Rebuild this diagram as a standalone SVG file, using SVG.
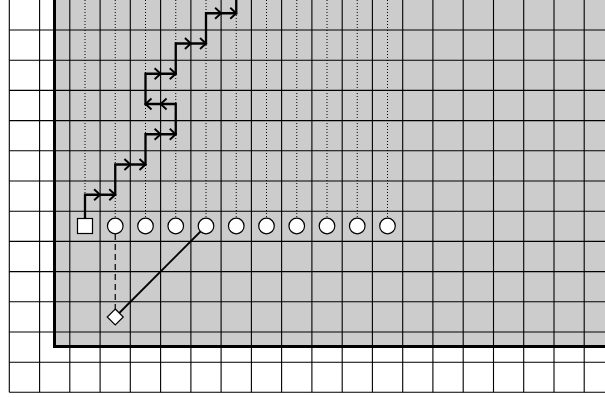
<svg xmlns="http://www.w3.org/2000/svg" xmlns:xlink="http://www.w3.org/1999/xlink" width="605" height="397" viewBox="0 0 605 397">
<style>
.grid{stroke:#000;stroke-width:1.1;fill:none}
.dot{stroke:#000;stroke-width:1;stroke-dasharray:1 2;fill:none}
.path{stroke:#000;stroke-width:2.3;fill:none;stroke-linejoin:miter}
.chev{stroke:#000;stroke-width:1.9;fill:none}
.node{fill:#fff;stroke:#000;stroke-width:1.2}
</style>
<defs>
<path id="ar" class="chev" d="M-6,-5.5 L0,0 L-6,5.5"/>
<path id="al" class="chev" d="M6,-5.5 L0,0 L6,5.5"/>
</defs>
<rect x="0" y="0" width="605" height="397" fill="#fff"/>
<rect x="54.5" y="-10" width="570" height="356.5" fill="#ccc"/>
<g id="grid" class="grid">
<path d="M9.3,0V392.3 M39.6,0V392.3 M69.8,0V392.3 M100.1,0V392.3 M130.3,0V392.3 M160.6,0V392.3 M190.9,0V392.3 M221.1,0V392.3 M251.4,0V392.3 M281.6,0V392.3 M311.9,0V392.3 M342.2,0V392.3 M372.4,0V392.3 M402.7,0V392.3 M432.9,0V392.3 M463.2,0V392.3 M493.5,0V392.3 M523.7,0V392.3 M554,0V392.3 M584.2,0V392.3"/>
<path d="M9.3,30H605 M9.3,60.2H605 M9.3,90.4H605 M9.3,120.6H605 M9.3,150.8H605 M9.3,181H605 M9.3,211.2H605 M9.3,241.4H605 M9.3,271.6H605 M9.3,301.8H605 M9.3,332H605 M9.3,362.2H605 M9.3,392.3H605"/>
</g>
<rect x="54.5" y="-10" width="570" height="356.5" fill="none" stroke="#000" stroke-width="3"/>
<g id="connectors">
<path class="dot" d="M85,0V195 M115.25,0V218 M145.5,0V218 M175.75,0V218 M206,0V218 M236.25,0V218 M266.5,0V218 M296.75,0V218 M327,0V218 M357.25,0V218 M387.5,0V218"/>
<path class="path" d="M85,218.5V194.75H115.25V164.5H145.5V134.25H175.75V104H145.5V73.75H175.75V43.5H206V13.25H236.25V-5"/>
<use xlink:href="#ar" x="100.1" y="194.75"/><use xlink:href="#ar" x="115.25" y="194.75"/>
<use xlink:href="#ar" x="130.4" y="164.5"/><use xlink:href="#ar" x="145.5" y="164.5"/>
<use xlink:href="#ar" x="160.6" y="134.25"/><use xlink:href="#ar" x="175.75" y="134.25"/>
<use xlink:href="#al" x="160.6" y="104"/><use xlink:href="#al" x="145.5" y="104"/>
<use xlink:href="#ar" x="160.6" y="73.75"/><use xlink:href="#ar" x="175.75" y="73.75"/>
<use xlink:href="#ar" x="190.9" y="43.5"/><use xlink:href="#ar" x="206" y="43.5"/>
<use xlink:href="#ar" x="221.1" y="13.25"/><use xlink:href="#ar" x="236.25" y="13.25"/>
<path d="M115.25,234V309" stroke="#000" stroke-width="1.2" stroke-dasharray="6 4" fill="none"/>
<path d="M206,226L115.25,317" stroke="#000" stroke-width="1.8" fill="none"/>
</g>
<g id="n-square"><rect class="node" x="77.5" y="218.5" width="15" height="15"/></g>
<g id="n1"><circle class="node" cx="115.25" cy="226" r="7.8"/></g>
<g id="n2"><circle class="node" cx="145.5" cy="226" r="7.8"/></g>
<g id="n3"><circle class="node" cx="175.75" cy="226" r="7.8"/></g>
<g id="n4"><circle class="node" cx="206" cy="226" r="7.8"/></g>
<g id="n5"><circle class="node" cx="236.25" cy="226" r="7.8"/></g>
<g id="n6"><circle class="node" cx="266.5" cy="226" r="7.8"/></g>
<g id="n7"><circle class="node" cx="296.75" cy="226" r="7.8"/></g>
<g id="n8"><circle class="node" cx="327" cy="226" r="7.8"/></g>
<g id="n9"><circle class="node" cx="357.25" cy="226" r="7.8"/></g>
<g id="n10"><circle class="node" cx="387.5" cy="226" r="7.8"/></g>
<g id="n-diamond"><path class="node" d="M115.25,309L123.25,317L115.25,325L107.25,317Z"/></g>
</svg>
